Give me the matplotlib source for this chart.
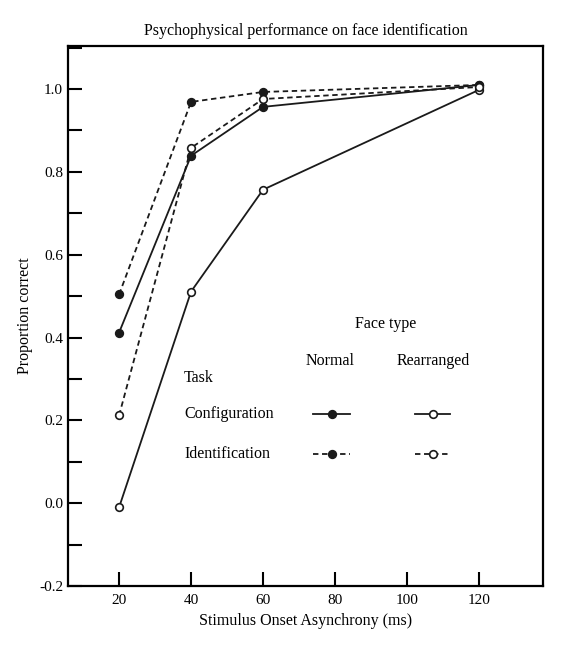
import numpy as np
import matplotlib.pyplot as plt
from matplotlib.ticker import MultipleLocator

plt.rcParams['font.family'] = ['Liberation Serif', 'DejaVu Serif']

soa = [20, 40, 60, 120]
config_normal = [0.412, 0.839, 0.957, 1.01]
config_rearranged = [-0.01, 0.511, 0.757, 0.998]
ident_normal = [0.504, 0.969, 0.993, 1.01]
ident_rearranged = [0.212, 0.858, 0.976, 1.005]

W, H = 568, 648
fig = plt.figure(figsize=(W / 100, H / 100), dpi=100)
ax = fig.add_axes([68 / W, (H - 586) / H, 475 / W, 540 / H])

def px(x, y):
    # figure-pixel position -> axes fraction
    return (x - 68) / 475, (586 - y) / 540

mk = dict(markersize=5.5, markeredgewidth=1.2, markeredgecolor='#1a1a1a', color='#1a1a1a', lw=1.3)
ax.plot(soa, config_normal, '-o', markerfacecolor='#1a1a1a', **mk)
ax.plot(soa, config_rearranged, '-o', markerfacecolor='white', **mk)
ax.plot(soa, ident_normal, '--o', markerfacecolor='#1a1a1a', dashes=(3, 2), **mk)
ax.plot(soa, ident_rearranged, '--o', markerfacecolor='white', dashes=(3, 2), **mk)

ax.set_xlim(5.8, 137.8)
ax.set_ylim(-0.2, 1.104)
ax.set_xticks([20, 40, 60, 80, 100, 120])
ax.set_yticks([-0.2, 0.0, 0.2, 0.4, 0.6, 0.8, 1.0])
ax.set_yticklabels(['-0.2', '0.0', '0.2', '0.4', '0.6', '0.8', '1.0'])
ax.yaxis.set_minor_locator(MultipleLocator(0.1))
ax.tick_params(direction='in', length=10, width=1.5, labelsize=11)
ax.tick_params(which='minor', direction='in', length=10, width=1.5)
ax.tick_params(axis='x', pad=6)
for s in ax.spines.values():
    s.set_linewidth(1.6)

ax.set_title('Psychophysical performance on face identification', fontsize=11.5, pad=8)
ax.set_xlabel('Stimulus Onset Asynchrony (ms)', fontsize=11.5, labelpad=4)
ax.set_ylabel('Proportion correct', fontsize=11.5)

# legend drawn as a table inside the axes
tk = dict(transform=ax.transAxes, fontsize=11.5, va='center')
ax.text(*px(386, 324), 'Face type', ha='center', **tk)
ax.text(*px(330, 361), 'Normal', ha='center', **tk)
ax.text(*px(433, 361), 'Rearranged', ha='center', **tk)
ax.text(*px(184, 378), 'Task', ha='left', **tk)
ax.text(*px(184, 414), 'Configuration', ha='left', **tk)
ax.text(*px(184, 454), 'Identification', ha='left', **tk)
for yy, ls in [(414, '-'), (454, '--')]:
    for x0, x1, fc in [(313, 350, '#1a1a1a'), (415, 450, 'white')]:
        a0, b = px(x0, yy)
        a1, _ = px(x1, yy)
        kw = dict(mk)
        if ls == '--':
            kw['dashes'] = (3, 2)
        ax.plot([a0, a1], [b, b], ls, transform=ax.transAxes, clip_on=False, **kw)
        ax.plot([(a0 + a1) / 2], [b], 'o', transform=ax.transAxes, markerfacecolor=fc,
                markersize=5.5, markeredgewidth=1.2, markeredgecolor='#1a1a1a')

fig.savefig('out.png', dpi=100)
